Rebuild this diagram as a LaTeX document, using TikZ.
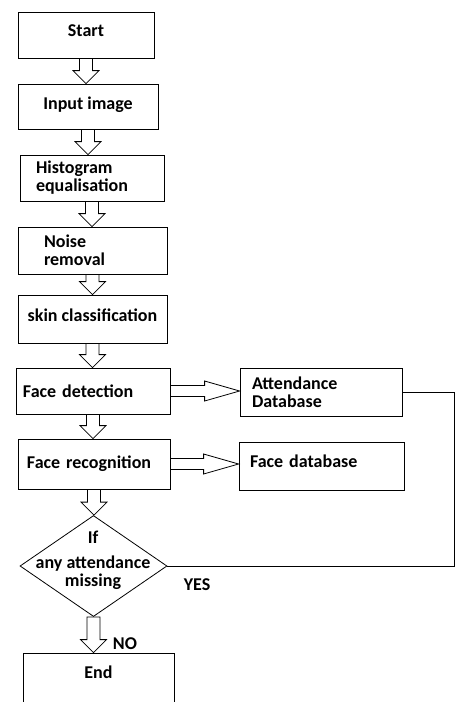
\documentclass[tikz,border=0pt]{standalone}
\usepackage{fontspec}
\setmainfont{Carlito}
\usetikzlibrary{shapes.geometric,calc}

\tikzset{
  process/.style={draw, rectangle, line width=0.8pt, inner sep=0pt,
    font=\bfseries\fontsize{18}{18}\selectfont, align=left},
  decision/.style={draw, diamond, line width=0.8pt, inner sep=0pt,
    minimum width=147, minimum height=101},
  note/.style={font=\bfseries\fontsize{18}{18}\selectfont, align=center},
  blockarrow/.style={draw, line width=0.8pt},
}

% hollow block arrows between two nodes
\newcommand{\downflow}[2]{%
  \draw[blockarrow] ($(#1.south)+(-6.5,0)$) -- ($(#1.south |- #2.north)+(-6.5,-13)$)
    -- ($(#1.south |- #2.north)+(-13,-13)$) -- (#1.south |- #2.north)
    -- ($(#1.south |- #2.north)+(13,-13)$) -- ($(#1.south |- #2.north)+(6.5,-13)$)
    -- ($(#1.south)+(6.5,0)$) -- cycle;}
\newcommand{\rightflow}[2]{%
  \draw[blockarrow] ($(#1.east)+(0,-5.5)$) -- ($(#2.west |- #1.east)+(-35,-5.5)$)
    -- ($(#2.west |- #1.east)+(-35,-10)$) -- (#2.west |- #1.east)
    -- ($(#2.west |- #1.east)+(-35,10)$) -- ($(#2.west |- #1.east)+(-35,5.5)$)
    -- ($(#1.east)+(0,5.5)$);}

\begin{document}
\begin{tikzpicture}[x=1pt,y=-1pt]
  \clip (0,0) rectangle (455,702);

  \node[process, minimum width=136, minimum height=46, text depth=8pt] (start) at (86,35) {Start};
  \node[process, minimum width=140, minimum height=45, text depth=7pt] (input) at (88,106.5) {Input image};
  \node[process, minimum width=144, minimum height=46, text width=112] (hist) at (92,178) {Histogram\\equalisation};
  \node[process, minimum width=149, minimum height=47, text width=97] (noise) at (92.5,250.5) {Noise\\removal};
  \node[process, minimum width=149, minimum height=48, text depth=8pt] (skin) at (92.5,319) {skin classification};
  \node[process, minimum width=154, minimum height=46, text width=140] (detect) at (93,391) {Face detection};
  \node[process, minimum width=152, minimum height=50, text width=134] (recog) at (94,464) {Face recognition};
  \node[decision] (check) at (93.5,566) {};
  \node[note] (checktext) at (93,560) {If\\[7pt]any attendance\\missing};
  \node[process, minimum width=151, minimum height=60, text depth=22pt] (stop) at (98.5,683) {End};

  \node[process, minimum width=162, minimum height=48, text width=138] (attdb) at (321,392) {Attendance\\Database};
  \node[process, minimum width=165, minimum height=48, text width=143, text depth=10pt] (facedb) at (321.5,466) {Face database};

  \node[note] (yes) at (197,585) {YES};
  \node[note] (no) at (125,644) {NO};

  \downflow{start}{input}
  \downflow{input}{hist}
  \downflow{hist}{noise}
  \downflow{noise}{skin}
  \downflow{skin}{detect}
  \downflow{detect}{recog}
  \downflow{recog}{check}
  \downflow{check}{stop}

  \rightflow{detect}{attdb}
  \rightflow{recog}{facedb}

  \coordinate (corner) at (454,392);
  \draw[line width=0.8pt] (attdb.east) -- (corner) |- (check.east);
\end{tikzpicture}
\end{document}
